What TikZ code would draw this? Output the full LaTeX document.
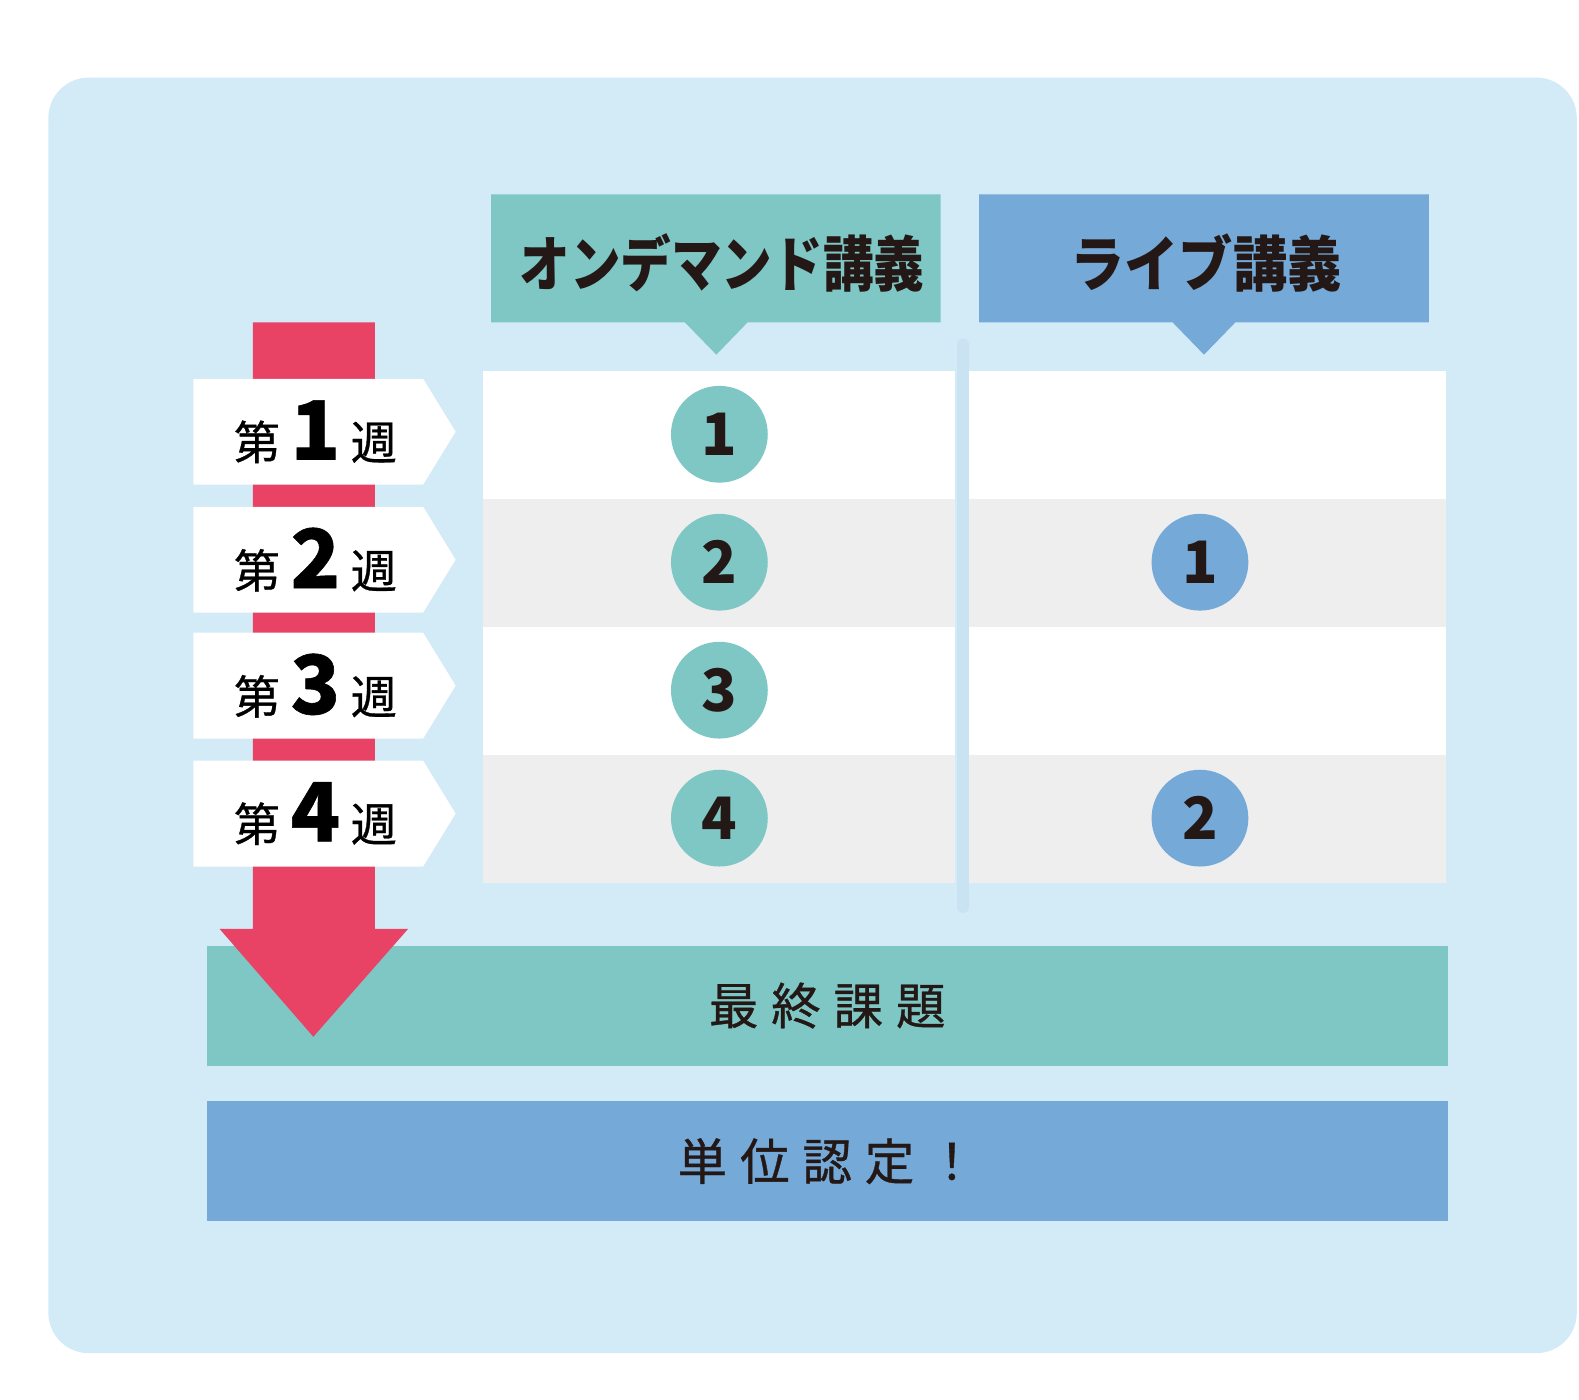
\documentclass[tikz,border=0pt]{standalone}
\usepackage{fontspec}
\setmainfont{Noto Sans CJK JP}
\newfontfamily\medfont{Noto Sans CJK JP}[FakeBold=0.7]
\usetikzlibrary{positioning,shapes.symbols,shapes.callouts}

\definecolor{bgblue}{HTML}{D3EAF7}
\definecolor{ondemand}{HTML}{7FC7C5}
\definecolor{live}{HTML}{74A9D8}
\definecolor{arrowred}{HTML}{E84264}
\definecolor{rowgrey}{HTML}{EEEEEE}
\definecolor{divider}{HTML}{C9E3F3}
\definecolor{ink}{HTML}{231815}

\newcommand{\wk}[1]{\hspace{4pt}\medfont\fontsize{13}{13}\selectfont 第\hspace{3pt}{\bfseries\fontsize{23}{23}\selectfont #1}\hspace{3pt}週}
\newcommand{\headtext}[3]{\hspace{#1}\raisebox{-1.4pt}[\height][\depth]{\scalebox{#2}[1]{#3}}}

\begin{document}
\begin{tikzpicture}
	% Styles
	[
	x=0.01cm, y=-0.01cm,
	head/.style={rectangle callout,fill=#1,inner sep=0pt,minimum width=4.46cm,minimum height=1.27cm,callout pointer width=0.62cm,text=ink,font=\bfseries\fontsize{17}{17}\selectfont},
	cell/.style={rectangle,fill=#1,inner sep=0pt,minimum height=1.27cm},
	lecture/.style={circle,fill=#1,inner sep=0pt,minimum size=0.96cm,text=ink,font=\bfseries\fontsize{16.5}{16.5}\selectfont},
	week/.style={signal,signal to=east,signal pointer angle=117,fill=white,inner sep=0pt,minimum width=2.6cm,minimum height=1.05cm,text=black},
	bar/.style={rectangle,fill=#1,inner sep=0pt,minimum width=12.31cm,minimum height=1.19cm,text=ink,font=\medfont\fontsize{14}{14}\selectfont},
	]
	\useasboundingbox (0,0) rectangle (1567.2,1389.5);

	% Background
	\fill[bgblue,rounded corners=0.4cm] (48,77) rectangle (1565,1343);

	% Headers
	\node at (710.5,256.5)	(hd1)	[head=ondemand,callout absolute pointer={(711,352)}] {\headtext{3.4pt}{0.84}{オンデマンド講義}};
	\node at (1195,256.5)	(hd2)	[head=live,callout absolute pointer={(1195,352)}] {\headtext{1.1pt}{0.9}{ライブ講義}};

	% Table rows
	\foreach \r/\y/\c in {1/431.5/white,2/558.5/rowgrey,3/685.5/white,4/812.5/rowgrey}{
		\node at (714,\y)	(l\r)	[cell=\c,minimum width=4.68cm] {};
		\node at (1198.5,\y)	(r\r)	[cell=\c,minimum width=4.73cm] {};
	}

	% Divider
	\coordinate (dtop) at (956,342);
	\coordinate (dbot) at (956,900);
	\draw[divider,line width=0.12cm,line cap=round] (dtop) -- (dbot);

	% Lectures
	\node at (714,431)	(od1)	[lecture=ondemand] {1};
	\node at (714,558)	(od2)	[lecture=ondemand] {2};
	\node at (714,685)	(od3)	[lecture=ondemand] {3};
	\node at (714,812)	(od4)	[lecture=ondemand] {4};
	\node at (1191,558)	(lv1)	[lecture=live] {1};
	\node at (1191,812)	(lv2)	[lecture=live] {2};

	% Final task and credit
	\node at (821,998)	(final)	[bar=ondemand] {最\hspace{3.6pt}終\hspace{3.6pt}課\hspace{3.6pt}題};
	\node at (821,1152.5)	(credit)	[bar=live] {単\hspace{3.6pt}位\hspace{3.6pt}認\hspace{3.6pt}定\hspace{3.6pt}！};

	% Arrow
	\fill[arrowred] (251,320) -- (372,320) -- (372,922) -- (405,922) -- (311,1029) -- (218,922) -- (251,922) -- cycle;

	% Weeks
	\node at (306,428.5)	(w1)	[week] {\wk{1}};
	\node at (306,555.5)	(w2)	[week] {\wk{2}};
	\node at (306,680.5)	(w3)	[week] {\wk{3}};
	\node at (306,807.5)	(w4)	[week] {\wk{4}};

\end{tikzpicture}
\end{document}
